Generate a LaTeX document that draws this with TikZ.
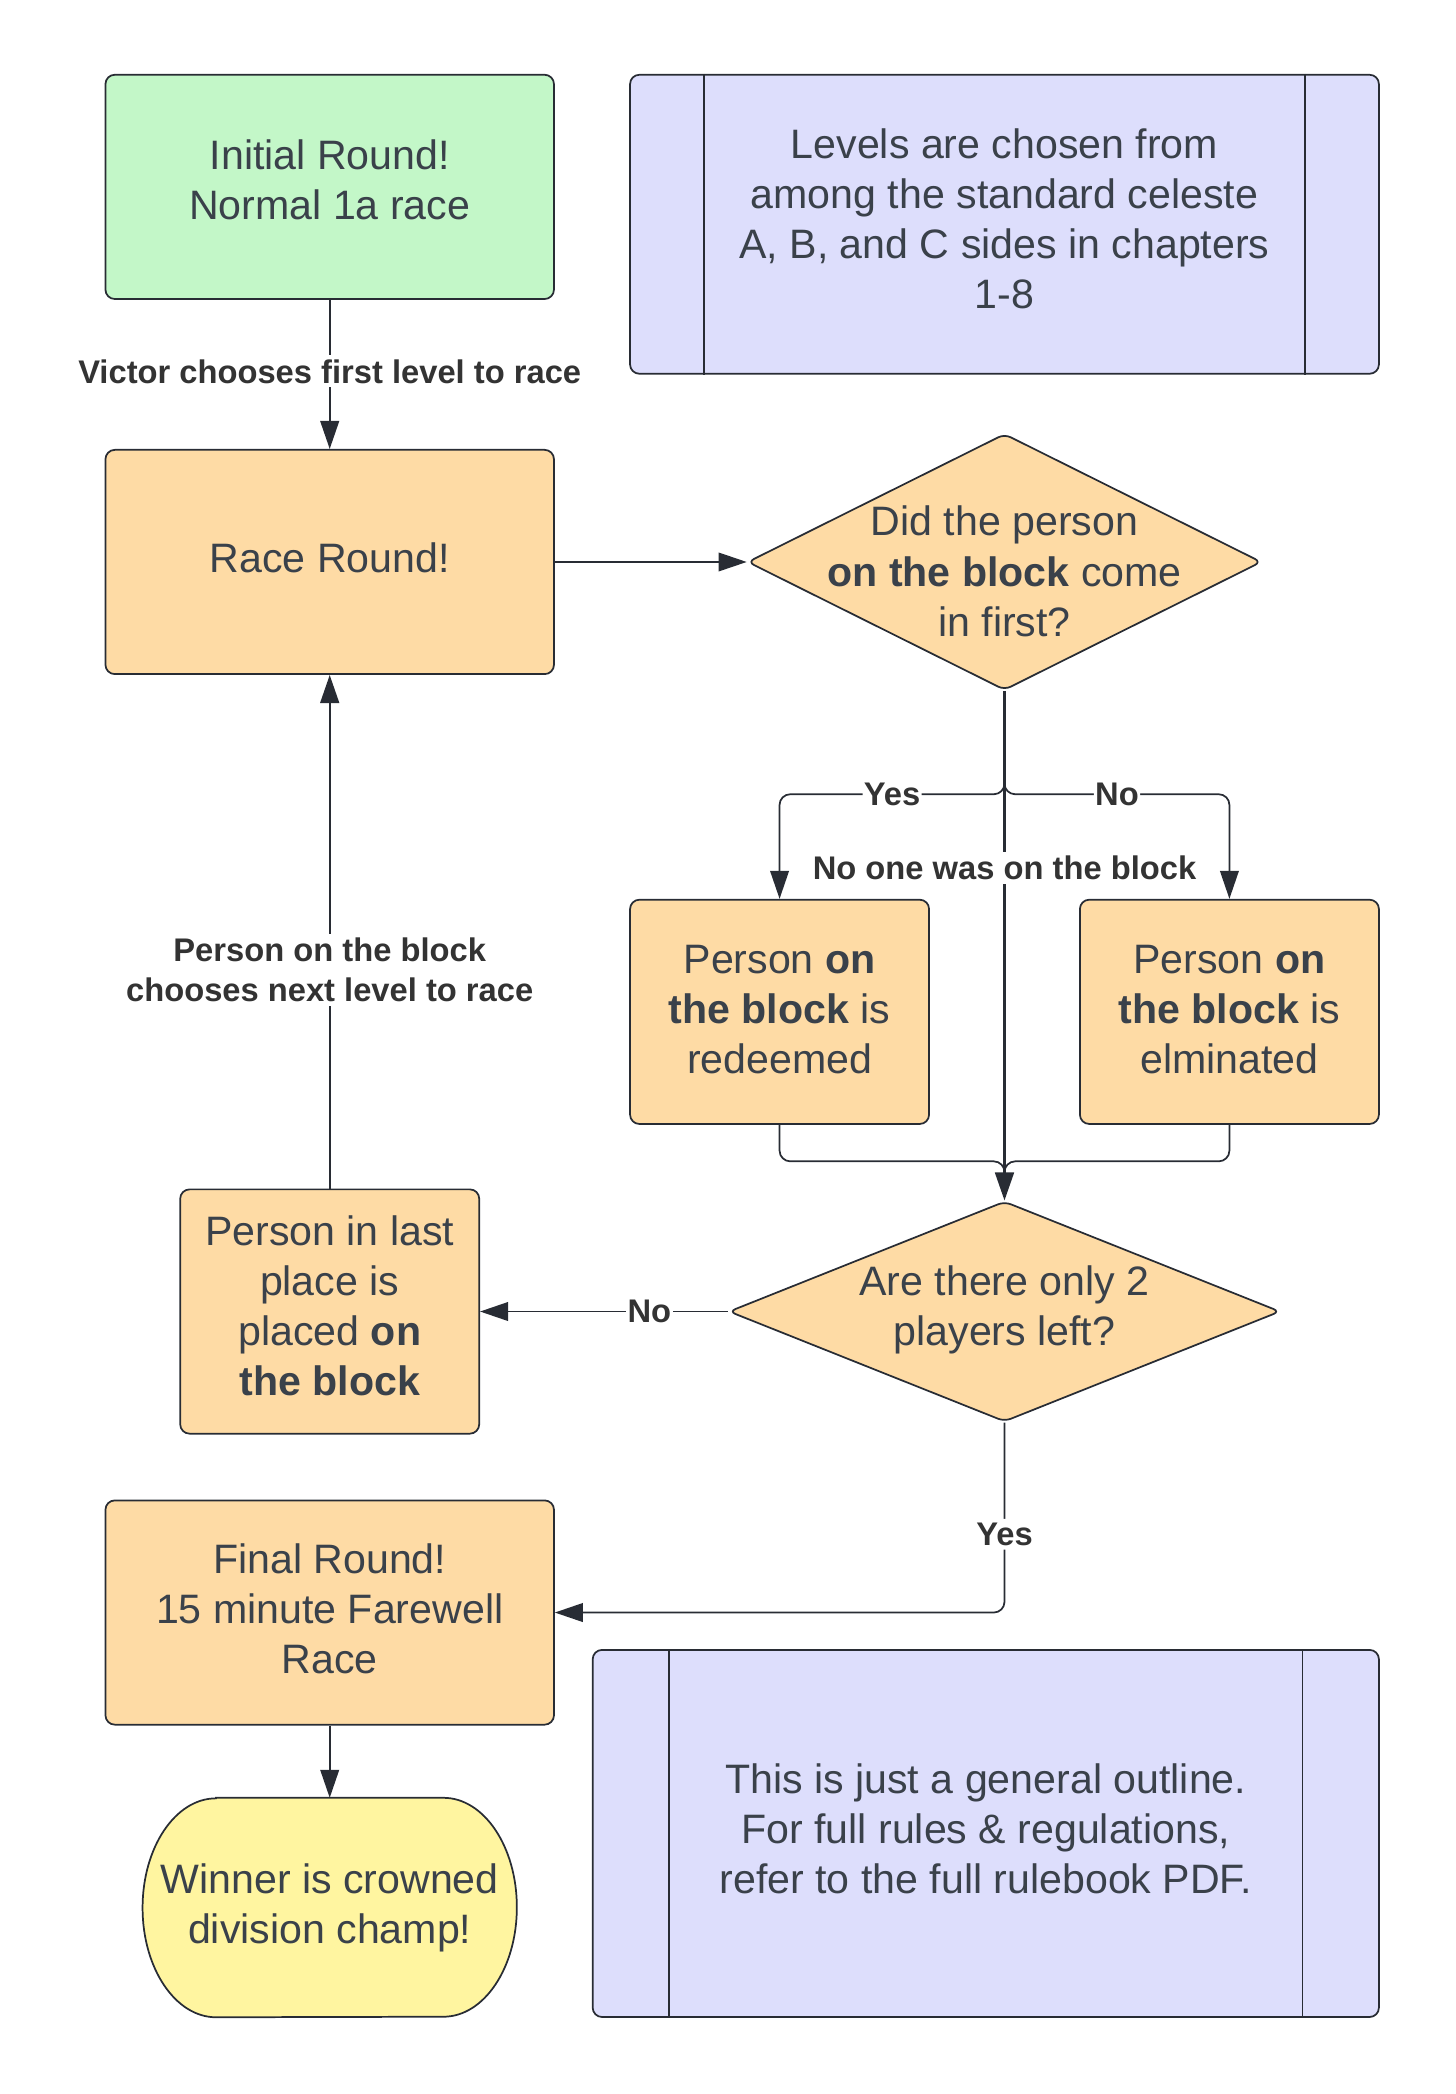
\documentclass[tikz,border=0pt]{standalone}
\usepackage{fontspec}
\setmainfont{Liberation Sans}
\usetikzlibrary{arrows.meta,calc,shapes.geometric}

\definecolor{edge}{RGB}{40,44,52}
\definecolor{ink}{RGB}{58,65,74}
\definecolor{lblink}{RGB}{51,51,51}
\definecolor{peach}{RGB}{254,219,165}
\definecolor{mint}{RGB}{195,247,200}
\definecolor{lavender}{RGB}{221,222,252}
\definecolor{lemon}{RGB}{255,245,160}

\begin{document}
\begin{tikzpicture}[x=1pt,y=1pt,
  txt/.style={text=ink, font=\fontsize{30.8}{37.5}\selectfont, align=center, inner sep=0pt},
  base/.style={txt, draw=edge, line width=1.3pt, rounded corners=7pt},
  proc/.style={base, fill=peach, minimum width=336pt, minimum height=168pt},
  smallproc/.style={base, fill=peach, minimum width=224pt, minimum height=168pt},
  note/.style={base, fill=lavender},
  decision/.style={draw=edge, fill=peach, line width=1.3pt, diamond, rounded corners=5pt, inner sep=0pt},
  lbl/.style={fill=white, text=lblink, font=\bfseries\fontsize{24.5}{30}\selectfont, inner sep=3pt, align=center},
  conn/.style={draw=edge, line width=1.5pt, -{Triangle[length=21pt,width=14pt]}},
  joinline/.style={draw=edge, line width=1.3pt, rounded corners=8pt},
]
\useasboundingbox (0,0) rectangle (1090,-1568.7);

% ---- boxes ----
\node[proc, fill=mint] (init) at (247,-140) {};
\node[txt] (initt) at (247,-135) {Initial Round!\\Normal 1a race};

\node[note, minimum width=561pt, minimum height=224pt] (levels) at (752.5,-168) {};
\draw[draw=edge, line width=1.3pt] ($(levels.north west)+(56,0)$) -- ($(levels.south west)+(56,0)$);
\draw[draw=edge, line width=1.3pt] ($(levels.north east)+(-56,0)$) -- ($(levels.south east)+(-56,0)$);
\node[txt] (levelst) at (752.5,-164) {Levels are chosen from\\among the standard celeste\\A, B, and C sides in chapters\\1-8};

\node[proc] (race) at (247,-421) {};
\node[txt] (racet) at (247,-418) {Race Round!};

\node[decision, minimum width=385pt, minimum height=192pt] (d1) at (752.5,-421) {};
\node[txt] (d1t) at (752.5,-428) {Did the person\\\textbf{on the block} come\\in first?};

\node[smallproc] (yes) at (584,-758) {};
\node[txt] (yest) at (584,-756) {Person \textbf{on}\\\textbf{the block} is\\redeemed};
\node[smallproc] (no) at (921,-758) {};
\node[txt] (not) at (921,-756) {Person \textbf{on}\\\textbf{the block} is\\elminated};

\node[decision, minimum width=413pt, minimum height=165pt] (d2) at (752.5,-982.5) {};
\node[txt] (d2t) at (752.5,-981) {Are there only 2\\players left?};

\node[smallproc, minimum height=183pt] (last) at (247,-982.5) {};
\node[txt] (lastt) at (247,-978.5) {Person in last\\place is\\placed \textbf{on}\\\textbf{the block}};

\node[proc] (final) at (247,-1208) {};
\node[txt] (finalt) at (247,-1205.5) {Final Round!\\15 minute Farewell\\Race};

% terminal with elliptical ends
\path node[minimum width=280pt, minimum height=164pt, inner sep=0pt] (win) at (247,-1429) {};
\draw[draw=edge, fill=lemon, line width=1.3pt]
  ($(win.north west)+(55,0)$) -- ($(win.north east)+(-55,0)$)
  arc[start angle=90, end angle=-90, x radius=55, y radius=82]
  -- ($(win.south west)+(55,0)$)
  arc[start angle=270, end angle=90, x radius=55, y radius=82] -- cycle;
\node[txt] (wint) at (247,-1429) {Winner is crowned\\division champ!};

\node[note, minimum width=589pt, minimum height=275pt] (outline) at (738.5,-1373.5) {};
\draw[draw=edge, line width=1.3pt] ($(outline.north west)+(58,0)$) -- ($(outline.south west)+(58,0)$);
\draw[draw=edge, line width=1.3pt] ($(outline.north east)+(-58,0)$) -- ($(outline.south east)+(-58,0)$);
\node[txt] (outlinet) at (738.5,-1370) {This is just a general outline.\\For full rules \& regulations,\\refer to the full rulebook PDF.};

% ---- connectors ----
\coordinate (split) at (752.5,-595);
\coordinate (join) at (752.5,-870);
\coordinate (joinend) at (752.5,-886);

\draw[conn] (init.south) -- node[lbl, pos=0.48] {Victor chooses first level to race} (race.north);
\draw[conn, line width=1pt] (race.east) -- (d1.west);

\draw[conn, line width=1.3pt, rounded corners=8pt] (d1.south) -- (split) -| node[lbl, inner sep=1pt, pos=0.25] {Yes} (yes.north);
\draw[conn, line width=1.3pt, rounded corners=8pt] (d1.south) -- (split) -| node[lbl, inner sep=1pt, pos=0.25] {No} (no.north);

\draw[joinline] (yes.south) |- (join) -- (joinend);
\draw[joinline] (no.south) |- (join) -- (joinend);
\draw[conn, line width=2pt] (d1.south) -- node[lbl, pos=0.347] {No one was on the block} (d2.north);

\draw[conn, line width=1.3pt] (d2.west) -- node[lbl, inner sep=1pt, pos=0.317] {No} (last.east);
\draw[conn, line width=1.8pt] (last.north) -- node[lbl, pos=0.425] {Person on the block\\chooses next level to race} (race.south);
\draw[conn, line width=1.3pt, rounded corners=8pt] (d2.south) |- node[lbl, pos=0.294] {Yes} (final.east);
\draw[conn, line width=1.3pt] (final.south) -- (win.north);
\end{tikzpicture}
\end{document}
